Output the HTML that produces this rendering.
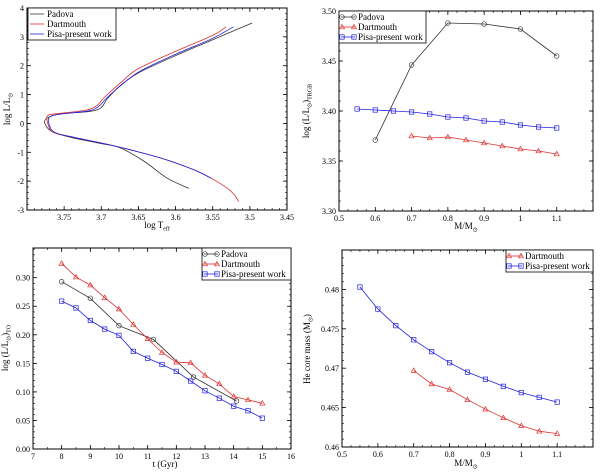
<!DOCTYPE html>
<html><head><meta charset="utf-8"><style>
body{margin:0;background:#fff}
svg{display:block;font-family:"Liberation Serif",serif}
</style></head><body>
<svg id="c" width="600" height="472" viewBox="0 0 600 472"></svg>
<script>
// Panel 1: isochrones (logTeff, logL)
const p1PadovaT=[3.582,3.611,3.642,3.674,3.70,3.741,3.766,3.776,3.773,3.755,3.715,3.70,3.692,3.675,3.65,3.6,3.55,3.497];
const p1PadovaL=[-2.25,-1.90,-1.32,-0.85,-0.70,-0.48,-0.29,0.0,0.18,0.33,0.42,0.55,0.85,1.3,1.75,2.35,2.9,3.48];
const p1DartT=[3.515,3.52,3.53,3.552,3.575,3.611,3.651,3.687,3.741,3.766,3.773,3.771,3.755,3.719,3.705,3.696,3.67,3.65,3.6,3.55,3.532];
const p1DartL=[-2.71,-2.5,-2.25,-1.90,-1.61,-1.27,-0.98,-0.75,-0.46,-0.29,0.1,0.29,0.35,0.47,0.64,0.9,1.5,1.9,2.5,3.05,3.35];
const p1PisaT=[3.552,3.575,3.611,3.651,3.687,3.741,3.764,3.771,3.768,3.752,3.716,3.702,3.692,3.665,3.645,3.6,3.55,3.522];
const p1PisaL=[-1.90,-1.61,-1.27,-0.98,-0.75,-0.46,-0.29,0.05,0.25,0.33,0.44,0.62,0.9,1.5,1.85,2.4,2.95,3.35];
// Panel 2: log L at TRGB vs mass
const p2PadM=[0.6,0.7,0.8,0.9,1.0,1.1];
const p2PadV=[3.371,3.446,3.488,3.487,3.482,3.455];
const p2DartM=[0.7,0.75,0.8,0.85,0.9,0.95,1.0,1.05,1.1];
const p2DartV=[3.375,3.373,3.374,3.371,3.368,3.365,3.362,3.360,3.357];
const p2PisaM=[0.55,0.6,0.65,0.7,0.75,0.8,0.85,0.9,0.95,1.0,1.05,1.1];
const p2PisaV=[3.402,3.401,3.400,3.399,3.397,3.394,3.393,3.390,3.389,3.386,3.384,3.383];
// Panel 3: log L at TO vs age
const p3PadT=[8,9,10,11.2,12.6,14.1];
const p3PadV=[0.293,0.264,0.216,0.192,0.126,0.084];
const p3DartT=[8,8.5,9,9.5,10,10.5,11,11.5,12,12.5,13,13.5,14,14.5,15];
const p3DartV=[0.325,0.301,0.287,0.265,0.245,0.218,0.193,0.169,0.152,0.151,0.129,0.114,0.092,0.086,0.080];
const p3PisaT=[8,8.5,9,9.5,10,10.5,11,11.5,12,12.5,13,13.5,14,14.5,15];
const p3PisaV=[0.259,0.247,0.225,0.210,0.199,0.171,0.159,0.148,0.136,0.119,0.102,0.089,0.075,0.067,0.054];
// Panel 4: He core mass vs mass
const p4PisaM=[0.55,0.6,0.65,0.7,0.75,0.8,0.85,0.9,0.95,1.0,1.05,1.1];
const p4PisaV=[0.4803,0.4775,0.4754,0.4736,0.4721,0.4707,0.4695,0.4686,0.4677,0.4669,0.4663,0.4657];
const p4DartM=[0.7,0.75,0.8,0.85,0.9,0.95,1.0,1.05,1.1];
const p4DartV=[0.4697,0.4680,0.4673,0.4660,0.4648,0.4637,0.4627,0.4620,0.4617];

const NS='http://www.w3.org/2000/svg';
const svg=document.getElementById('c');
function mk(tag,at,parent){const e=document.createElementNS(NS,tag);for(const k in at)e.setAttribute(k,at[k]);(parent||svg).appendChild(e);return e;}
function txt(s,x,y,anchor,size,parent){const t=mk('text',{x:x,y:y,'text-anchor':anchor||'middle','font-size':size||9,fill:'#000'},parent);t.textContent=s;return t;}
function rich(parts,x,y,anchor,rot){
  const t=mk('text',{x:x,y:y,'text-anchor':anchor||'middle','font-size':9,fill:'#000'});
  if(rot)t.setAttribute('transform',`rotate(-90 ${x} ${y})`);
  let sub=false;
  parts.forEach(p=>{
    const s=mk('tspan',{},t);
    if(p[1]&&!sub){s.setAttribute('dy','2.5');s.setAttribute('font-size','6');sub=true;}
    else if(p[1]&&sub){s.setAttribute('font-size','6');}
    else if(!p[1]&&sub){s.setAttribute('dy','-2.5');sub=false;}
    s.textContent=p[0];
  });
  return t;
}

function panel(name,box,xr,yr,xt,yt,xfmt,yfmt,xminor,yminor){
  const g=mk('g',{});
  
  
  const sx=v=>box.x0+(v-xr[0])/(xr[1]-xr[0])*(box.x1-box.x0);
  const sy=v=>box.y1-(v-yr[0])/(yr[1]-yr[0])*(box.y1-box.y0);
  const fr=mk('rect',{x:box.x0,y:box.y0,width:box.x1-box.x0,height:box.y1-box.y0,fill:'none',stroke:'#000','stroke-width':1},g);
  
  
  const ax=mk('g',{},g);
  
  
  for(const v of xminor){const x=sx(v);mk('line',{x1:x,x2:x,y1:box.y1,y2:box.y1-2,stroke:'#000','stroke-width':0.6},ax);mk('line',{x1:x,x2:x,y1:box.y0,y2:box.y0+2,stroke:'#000','stroke-width':0.6},ax);}
  for(const v of xt){const x=sx(v);mk('line',{x1:x,x2:x,y1:box.y1,y2:box.y1-4,stroke:'#000','stroke-width':0.8},ax);mk('line',{x1:x,x2:x,y1:box.y0,y2:box.y0+4,stroke:'#000','stroke-width':0.8},ax);
    const t=txt(xfmt(v),x,box.y1+10,'middle',8,ax);}
  const ay=mk('g',{},g);
  
  
  for(const v of yminor){const y=sy(v);mk('line',{x1:box.x0,x2:box.x0+2,y1:y,y2:y,stroke:'#000','stroke-width':0.6},ay);mk('line',{x1:box.x1,x2:box.x1-2,y1:y,y2:y,stroke:'#000','stroke-width':0.6},ay);}
  for(const v of yt){const y=sy(v);mk('line',{x1:box.x0,x2:box.x0+4,y1:y,y2:y,stroke:'#000','stroke-width':0.8},ay);mk('line',{x1:box.x1,x2:box.x1-4,y1:y,y2:y,stroke:'#000','stroke-width':0.8},ay);
    const t=txt(yfmt(v),box.x0-3,y+3,'end',8,ay);}
  return {g,sx,sy};
}
function range(a,b,s){const r=[];for(let v=a;v<=b+1e-9;v+=s)r.push(+v.toFixed(6));return r;}
function smoothPath(P,xs,ys){
  const p=xs.map((x,i)=>[P.sx(x),P.sy(ys[i])]);
  let d='M'+p[0][0].toFixed(1)+','+p[0][1].toFixed(1);
  for(let i=0;i<p.length-1;i++){
    const p0=p[Math.max(0,i-1)],p1=p[i],p2=p[i+1],p3=p[Math.min(p.length-1,i+2)];
    const c1=[p1[0]+(p2[0]-p0[0])/6,p1[1]+(p2[1]-p0[1])/6];
    const c2=[p2[0]-(p3[0]-p1[0])/6,p2[1]-(p3[1]-p1[1])/6];
    d+=` C${c1[0].toFixed(1)},${c1[1].toFixed(1)} ${c2[0].toFixed(1)},${c2[1].toFixed(1)} ${p2[0].toFixed(1)},${p2[1].toFixed(1)}`;
  }
  return d;
}
function series(P,xs,ys,color,marker,name,smooth){
  const g=mk('g',{},P.g);
  
  
  if(smooth){mk('path',{d:smoothPath(P,xs,ys),fill:'none',stroke:color,'stroke-width':0.8},g);}
  else{
    const pts=xs.map((x,i)=>P.sx(x).toFixed(1)+','+P.sy(ys[i]).toFixed(1)).join(' ');
    mk('polyline',{points:pts,fill:'none',stroke:color,'stroke-width':0.8},g);
  }
  xs.forEach((x,i)=>{const cx=P.sx(x),cy=P.sy(ys[i]);drawMarker(g,marker,cx,cy,color);});
}
function drawMarker(g,m,cx,cy,color){
  let e;
  if(m==='o')e=mk('circle',{cx:cx,cy:cy,r:2.3,fill:'none',stroke:color,'stroke-width':0.7},g);
  else if(m==='^')e=mk('polygon',{points:`${cx},${cy-2.6} ${cx-2.5},${cy+1.8} ${cx+2.5},${cy+1.8}`,fill:'none',stroke:color,'stroke-width':0.7},g);
  else if(m==='s')e=mk('rect',{x:cx-2.2,y:cy-2.2,width:4.4,height:4.4,fill:'none',stroke:color,'stroke-width':0.7},g);
  if(e){}
}
function legend(P,x,y,w,entries,markers){
  const g=mk('g',{},P.g);
  
  
  mk('rect',{x:x,y:y,width:w,height:entries.length*10+2,fill:'#fff',stroke:'#000','stroke-width':0.8},g);
  entries.forEach((en,i)=>{
    const e=mk('g',{},g);
    
    
    const yy=y+6+i*10;
    mk('line',{x1:x+2,x2:x+16,y1:yy,y2:yy,stroke:en[1],'stroke-width':0.8},e);
    if(markers){drawMarker(e,en[2],x+3,yy,en[1]);drawMarker(e,en[2],x+15,yy,en[1]);}
    txt(en[0],x+19,yy+3,'start',9,e);
  });
}
const BLK='#333',RED='#e03030',BLU='#2020e0';
let t;

// Panel 1
const P1=panel('hr-diagram-panel',{x0:27,x1:287,y0:8,y1:210},[3.8,3.45],[-3,4],[3.75,3.7,3.65,3.6,3.55,3.5,3.45],range(-3,4,1),v=>String(v),v=>String(v),range(3.46,3.8,0.01),range(-3,4,0.2));
series(P1,p1PadovaT,p1PadovaL,BLK,null,'padova-isochrone',true);
series(P1,p1DartT,p1DartL,RED,null,'dartmouth-isochrone',true);
series(P1,p1PisaT,p1PisaL,BLU,null,'pisa-isochrone',true);
legend(P1,28,8,88,[['Padova',BLK],['Dartmouth',RED],['Pisa-present work',BLU]],false);
t=rich([['log T',0],['eff',1]],157,228,'middle');
t=rich([['log L/L',0],['⊙',1]],10,109,'middle',true);

// Panel 2
const P2=panel('trgb-luminosity-panel',{x0:339,x1:593,y0:11,y1:211},[0.5,1.2],[3.30,3.50],[0.5,0.6,0.7,0.8,0.9,1,1.1],range(3.30,3.50,0.05),v=>String(v),v=>v.toFixed(2),range(0.5,1.2,0.025),range(3.30,3.50,0.01));
series(P2,p2PadM,p2PadV,BLK,'o','padova-series');
series(P2,p2DartM,p2DartV,RED,'^','dartmouth-series');
series(P2,p2PisaM,p2PisaV,BLU,'s','pisa-series');
legend(P2,339,11,87,[['Padova',BLK,'o'],['Dartmouth',RED,'^'],['Pisa-present work',BLU,'s']],true);
t=rich([['M/M',0],['⊙',1]],466,229,'middle');
t=rich([['log (L/L',0],['⊙',1],[')',0],['TRGB',1]],309,111,'middle',true);

// Panel 3
const P3=panel('turnoff-luminosity-panel',{x0:33,x1:291,y0:248,y1:449},[7,16],[0,0.352],range(7,16,1),range(0,0.30,0.05),v=>String(v),v=>v.toFixed(2),range(7,16,0.5),range(0,0.35,0.01));
series(P3,p3PadT,p3PadV,BLK,'o','padova-series');
series(P3,p3DartT,p3DartV,RED,'^','dartmouth-series');
series(P3,p3PisaT,p3PisaV,BLU,'s','pisa-series');
legend(P3,202,248,89,[['Padova',BLK,'o'],['Dartmouth',RED,'^'],['Pisa-present work',BLU,'s']],true);
t=txt('t (Gyr)',165,467,'middle',9);
t=rich([['log (L/L',0],['⊙',1],[')',0],['TO',1]],8,348,'middle',true);

// Panel 4
const P4=panel('he-core-mass-panel',{x0:342,x1:593,y0:250,y1:447},[0.5,1.2],[0.46,0.485],[0.5,0.6,0.7,0.8,0.9,1,1.1],[0.46,0.465,0.47,0.475,0.48],v=>String(v),v=>String(+v.toFixed(3)),range(0.5,1.2,0.025),range(0.46,0.485,0.001));
series(P4,p4DartM,p4DartV,RED,'^','dartmouth-series');
series(P4,p4PisaM,p4PisaV,BLU,'s','pisa-series');
legend(P4,506,250,87,[['Dartmouth',RED,'^'],['Pisa-present work',BLU,'s']],true);
t=rich([['M/M',0],['⊙',1]],466,466,'middle');
t=rich([['He core mass (M',0],['⊙',1],[')',0]],310,349,'middle',true);
</script>
</body></html>
